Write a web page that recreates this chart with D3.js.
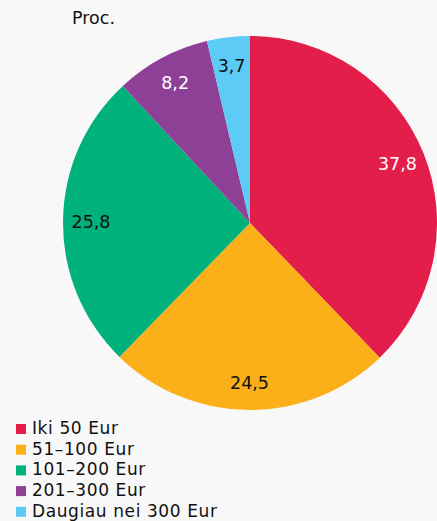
<!DOCTYPE html>
<html>
<head>
<meta charset="utf-8">
<script src="https://cdn.jsdelivr.net/npm/d3@7"></script>
<style>
  html, body { margin: 0; padding: 0; background: #f8f8f8; }
  svg { display: block; font-family: "DejaVu Sans", Verdana, sans-serif; }
</style>
</head>
<body>
<div id="chart"></div>
<script>
const categories = ["Iki 50 Eur", "51–100 Eur", "101–200 Eur", "201–300 Eur", "Daugiau nei 300 Eur"];
const values = [37.8, 24.5, 25.8, 8.2, 3.7];
const colors = ["#e41e4b", "#fbaf19", "#00b17b", "#8e3f96", "#5ccbf5"];
const labelColors = ["#fff", "#111", "#111", "#fff", "#111"];
const unitLabel = "Proc.";

const width = 437, height = 521;
const cx = 250, cy = 223, radius = 187;

const svg = d3.select("#chart").append("svg")
  .attr("width", width)
  .attr("height", height);

svg.append("rect")
  .attr("width", width)
  .attr("height", height)
  .attr("fill", "#f8f8f8");

svg.append("text")
  .attr("x", 72)
  .attr("y", 24)
  .style("font-size", "17.5px")
  .attr("fill", "#111")
  .text(unitLabel);

const data = categories.map((c, i) => ({cat: c, value: values[i], i: i}));

const pie = d3.pie()
  .sort(null)
  .value(d => d.value);

const arc = d3.arc().innerRadius(0).outerRadius(radius);
const labelArc = d3.arc().innerRadius(159).outerRadius(159);

const g = svg.append("g")
  .attr("transform", "translate(" + cx + "," + cy + ")");

const slices = g.selectAll("g.slice")
  .data(pie(data))
  .enter()
  .append("g")
  .attr("class", "slice");

slices.append("path")
  .attr("d", arc)
  .attr("fill", d => colors[d.data.i]);

slices.append("text")
  .attr("transform", d => "translate(" + labelArc.centroid(d) + ")")
  .attr("text-anchor", "middle")
  .attr("dy", "0.38em")
  .style("font-size", "17.5px")
  .attr("fill", d => labelColors[d.data.i])
  .text(d => String(d.data.value).replace(".", ","));

// legend
const legend = svg.append("g")
  .attr("transform", "translate(16,424)");

const rowH = 20.7;

const rows = legend.selectAll("g.row")
  .data(data)
  .enter()
  .append("g")
  .attr("class", "row")
  .attr("transform", (d, i) => "translate(0," + (i * rowH) + ")");

rows.append("rect")
  .attr("width", 10)
  .attr("height", 10)
  .attr("fill", d => colors[d.i]);

rows.append("text")
  .attr("x", 16)
  .attr("y", 10)
  .style("font-size", "17px")
  .style("letter-spacing", "0.6px")
  .attr("fill", "#111")
  .text(d => d.cat);
</script>
</body>
</html>
